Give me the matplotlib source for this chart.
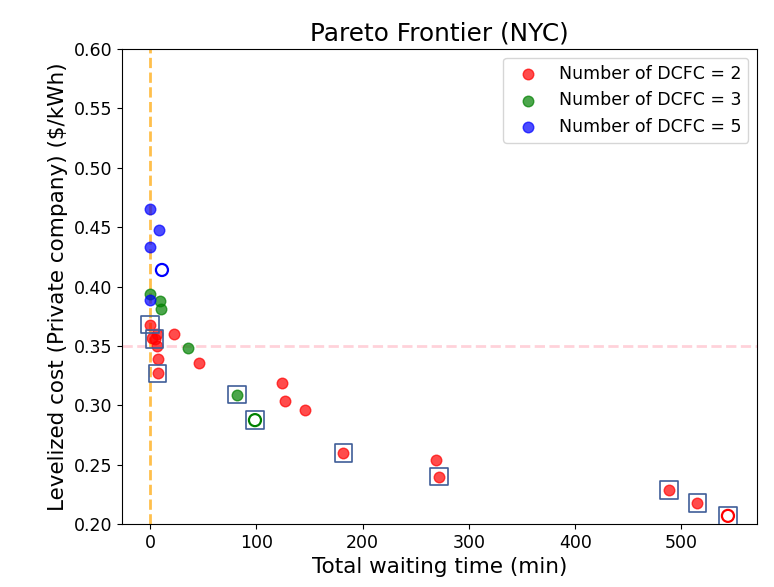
import matplotlib
matplotlib.use("Agg")
import matplotlib.pyplot as plt
import numpy as np

# solutions with 2 DCFC
wait_2 = [0, 1.8, 6.5, 4.4, 22.6, 7.0, 7.2, 46, 7.2, 124, 127, 146, 182, 269, 272, 488, 515]
cost_2 = [0.368, 0.357, 0.360, 0.356, 0.360, 0.350, 0.339, 0.336, 0.327, 0.319, 0.304, 0.296, 0.260, 0.254, 0.240, 0.229, 0.218]

# solutions with 3 DCFC
wait_3 = [0, 9.4, 10.3, 35.4, 82]
cost_3 = [0.394, 0.388, 0.381, 0.348, 0.309]

# solutions with 5 DCFC
wait_5 = [0, 8.2, 0, 0]
cost_5 = [0.465, 0.448, 0.433, 0.389]

# chosen (hollow) solutions
hollow_wait = [543.7, 98.8, 11.3]
hollow_cost = [0.207, 0.2876, 0.414]
hollow_color = ['red', 'green', 'blue']

# pareto-optimal points (boxed)
pareto_wait = [0, 4.4, 7.2, 82, 98.8, 182, 272, 488, 515, 543.7]
pareto_cost = [0.368, 0.356, 0.327, 0.309, 0.2876, 0.260, 0.240, 0.229, 0.218, 0.207]

fig = plt.figure(figsize=(7.74, 5.87), dpi=100)
ax = fig.add_axes([0.158, 0.107, 0.82, 0.8095])

ax.axvline(0, color='orange', linestyle='--', linewidth=2, alpha=0.7, zorder=1)
ax.axhline(0.35, color='pink', linestyle='--', linewidth=2, alpha=0.7, zorder=1)

ax.scatter(wait_2, cost_2, s=58, c='red', alpha=0.7, label='Number of DCFC = 2', zorder=3)
ax.scatter(wait_3, cost_3, s=58, c='green', alpha=0.7, label='Number of DCFC = 3', zorder=3)
ax.scatter(wait_5, cost_5, s=58, c='blue', alpha=0.7, label='Number of DCFC = 5', zorder=3)
for w, c, col in zip(hollow_wait, hollow_cost, hollow_color):
    ax.scatter(w, c, s=75, facecolors='none', edgecolors=col, linewidths=1.6, zorder=3)

ax.scatter(pareto_wait, pareto_cost, s=160, marker='s', facecolors='none',
           edgecolors='#3f5e98', linewidths=1.2, zorder=4)

ax.set_xlim(-26, 571)
ax.set_ylim(0.2, 0.6)
ax.set_xticks([0, 100, 200, 300, 400, 500])
ax.set_yticks(np.arange(0.2, 0.61, 0.05))
ax.yaxis.set_major_formatter(matplotlib.ticker.FormatStrFormatter('%.2f'))
ax.tick_params(labelsize=12.5)

ax.set_xlabel('Total waiting time (min)', fontsize=15.5)
ax.set_ylabel('Levelized cost (Private company) ($/kWh)', fontsize=15.5)
ax.set_title('Pareto Frontier (NYC)', fontsize=17.8)
ax.legend(loc='upper right', fontsize=12.5)

fig.savefig('out.png', dpi=100)
